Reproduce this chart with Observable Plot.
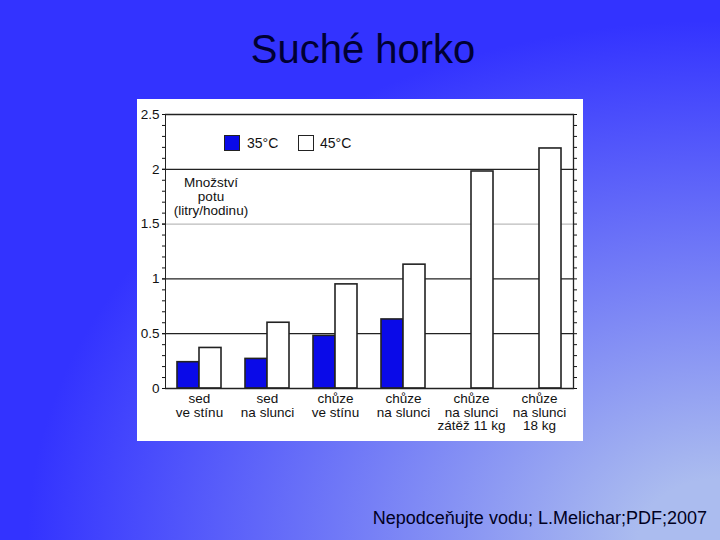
<!DOCTYPE html>
<html>
<head>
<meta charset="utf-8">
<script src="https://cdn.jsdelivr.net/npm/d3@7"></script>
<script src="https://cdn.jsdelivr.net/npm/@observablehq/plot@0.6"></script>
<style>
  html, body { margin: 0; padding: 0; }
  #bg {
    position: relative; width: 720px; height: 540px; overflow: hidden;
    background: radial-gradient(1018px 764px at 100% 100%, #abbcef 8%, #3333ff 68%);
    font-family: "Liberation Sans", Arial, sans-serif;
  }
  #title {
    position: absolute; left: 0; width: 726px; top: 29px; text-align: center;
    font-size: 40px; line-height: 40px; color: #000033;
  }
  #panel {
    position: absolute; left: 137px; top: 99px; width: 446px; height: 342px; background: #ffffff;
  }
  #chart svg { display: block; }
  #legend { position: absolute; left: 0; top: 0; font-size: 14px; color: #111; }
  .sw { position: absolute; width: 14px; height: 14px; top: 36px; border: 1px solid #222; }
  .lt { position: absolute; top: 37px; line-height: 14px; }
  #ylabel {
    position: absolute; left: 29px; width: 90px; top: 77px; text-align: center;
    font-size: 13.5px; line-height: 14px; color: #111;
  }
  #footer {
    position: absolute; right: 13px; top: 509px; font-size: 18px; line-height: 18px; color: #000022;
  }
</style>
</head>
<body>
<div id="bg">
  <div id="title">Suché horko</div>
  <div id="panel">
    <div id="chart"></div>
    <div id="legend"></div>
    <div id="ylabel">Množství<br>potu<br>(litry/hodinu)</div>
  </div>
  <div id="footer">Nepodceňujte vodu; L.Melichar;PDF;2007</div>
</div>
<script>
const categories = ["sed ve stínu", "sed na slunci", "chůze ve stínu", "chůze na slunci", "chůze na slunci zátěž 11 kg", "chůze na slunci 18 kg"];
const categoryLabels = ["sed\nve stínu", "sed\nna slunci", "chůze\nve stínu", "chůze\nna slunci", "chůze\nna slunci\nzátěž 11 kg", "chůze\nna slunci\n18 kg"];
const series = ["35°C", "45°C"];
const values35 = [0.24, 0.27, 0.48, 0.63, null, null];
const values45 = [0.37, 0.60, 0.95, 1.13, 1.98, 2.19];
const seriesColors = ["#0a0ae8", "#ffffff"];
const yTickValues = [0, 0.5, 1, 1.5, 2, 2.5];
const darkGrid = [0.5, 1, 2, 2.5];
const lightGrid = [1.5];

const table = [];
categories.forEach((c, i) => {
  if (values35[i] != null) table.push({category: c, series: series[0], value: values35[i]});
  if (values45[i] != null) table.push({category: c, series: series[1], value: values45[i]});
});

const chart = Plot.plot({
  width: 446,
  height: 342,
  marginLeft: 28,
  marginRight: 10,
  marginTop: 15,
  marginBottom: 53,
  style: {fontFamily: "Liberation Sans, Arial, sans-serif", fontSize: "13.5px", color: "#111", background: "transparent"},
  fx: {domain: categories, padding: 0, axis: null, label: null},
  x: {domain: series, paddingInner: 0, paddingOuter: 0.48, axis: null, label: null},
  y: {domain: [0, 2.5], axis: null, label: null},
  color: {domain: series, range: seriesColors},
  marks: [
    Plot.ruleY(darkGrid, {stroke: "#222", strokeWidth: 1.3}),
    Plot.ruleY(lightGrid, {stroke: "#aaa", strokeWidth: 1}),
    Plot.barY(table, {fx: "category", x: "series", y: "value", fill: "series", stroke: "#222", strokeWidth: 1.6}),
    Plot.ruleY([0], {stroke: "#222", strokeWidth: 1.5}),
    Plot.frame({anchor: "left", stroke: "#222", facet: "super"}),
    Plot.frame({anchor: "right", stroke: "#222", strokeWidth: 1.3, facet: "super"}),
    Plot.axisY({anchor: "left", ticks: 25, tickSize: 3, tickFormat: () => "", label: null}),
    Plot.axisY(yTickValues, {anchor: "left", tickSize: 3, tickPadding: 3, tickFormat: d => String(d), label: null, fontSize: 13.5, fill: "#111"}),
    Plot.axisY({anchor: "right", ticks: 25, tickSize: 3, tickFormat: () => "", label: null}),
    Plot.text(categories, {fx: d => d, text: (d, i) => categoryLabels[i], frameAnchor: "bottom", lineAnchor: "top", dy: 5, fontSize: 13.5, lineHeight: 1.0, fill: "#111"})
  ]
});
document.getElementById("chart").appendChild(chart);

// legend
const legend = document.getElementById("legend");
const swLeft = [87, 161];
const txLeft = [110, 183];
series.forEach((s, i) => {
  const sw = document.createElement("div");
  sw.className = "sw";
  sw.style.left = swLeft[i] + "px";
  sw.style.background = seriesColors[i];
  legend.appendChild(sw);
  const t = document.createElement("div");
  t.className = "lt";
  t.style.left = txLeft[i] + "px";
  t.textContent = s;
  legend.appendChild(t);
});
</script>
</body>
</html>
